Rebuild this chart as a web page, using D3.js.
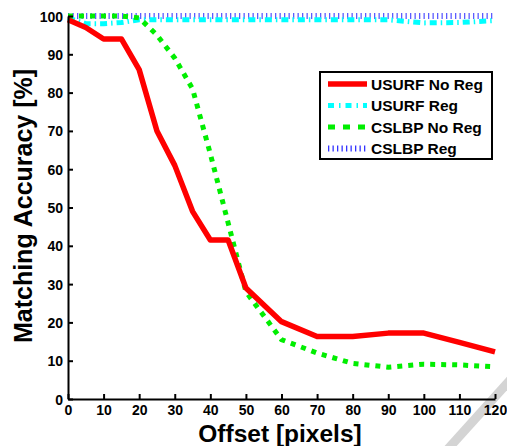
<!DOCTYPE html>
<html>
<head>
<meta charset="utf-8">
<script src="https://cdn.jsdelivr.net/npm/d3@7"></script>
<style>
  body { margin: 0; background: #fff; }
  text { font-family: "Liberation Sans", Arial, sans-serif; font-weight: bold; }
</style>
</head>
<body>
<div id="chart"></div>
<script>
// DATA
var offsets = [0, 5, 10, 15, 20, 25, 30, 35, 40, 45, 50, 60, 70, 80, 90, 100, 110, 120];
var usurfNoReg = [99, 97, 94, 94, 86, 70, 61, 49, 41.5, 41.5, 29, 20.2, 16.3, 16.3, 17.2, 17.2, 14.8, 12.3];
var usurfReg = [99.5, 98, 98, 98.3, 99, 99, 99, 99, 99, 99, 99, 99, 99, 99, 99, 98.2, 98.3, 98.8];
var cslbpNoReg = [100, 100, 100, 100, 99.5, 95, 89, 81, 64, 46, 28, 15.5, 12, 9.3, 8.3, 9.1, 8.9, 8.4];
var cslbpReg = [100, 100, 100, 100, 100, 100, 100, 100, 100, 100, 100, 100, 100, 100, 100, 100, 100, 100];
var xTicks = [0, 10, 20, 30, 40, 50, 60, 70, 80, 90, 100, 110, 120];
var yTicks = [0, 10, 20, 30, 40, 50, 60, 70, 80, 90, 100];

var series = [
  { name: "USURF No Reg", values: usurfNoReg, color: "#ff0000", width: 5.5, dash: null, legendDash: null },
  { name: "USURF Reg", values: usurfReg, color: "#00ffff", width: 5, dash: "7,4,1.5,4", legendDash: "6,5,1.5,5" },
  { name: "CSLBP No Reg", values: cslbpNoReg, color: "#00ee00", width: 5, dash: "5,6", legendDash: "7,8" },
  { name: "CSLBP Reg", values: cslbpReg, color: "#3333ff", width: 6, dash: "1.3,3.2", legendDash: "1.3,3.2" }
];

var svg = d3.select("#chart").append("svg")
  .attr("width", 507)
  .attr("height", 446);

var x = d3.scaleLinear().domain([0, 120]).range([68, 495]);
var y = d3.scaleLinear().domain([0, 100]).range([399, 16]);

// watermark stripe
svg.append("line")
  .attr("x1", 447).attr("y1", 450)
  .attr("x2", 512).attr("y2", 378)
  .attr("stroke", "#d4d4d4")
  .attr("stroke-width", 9);

// lines
var line = d3.line()
  .x(function (d, i) { return x(offsets[i]); })
  .y(function (d) { return y(d); });

// draw order: blue, cyan first then green and red on top
[3, 1, 2, 0].forEach(function (k) {
  var s = series[k];
  svg.append("path")
    .attr("d", line(s.values))
    .attr("fill", "none")
    .attr("stroke", s.color)
    .attr("stroke-width", s.width)
    .attr("stroke-dasharray", s.dash)
    .attr("stroke-linejoin", "round")
    .attr("opacity", k == 3 ? 0.8 : 1);
});

// axes
var xAxis = d3.axisBottom(x).tickValues(xTicks).tickSizeInner(-5).tickSizeOuter(0).tickPadding(6);
var yAxis = d3.axisLeft(y).tickValues(yTicks).tickSizeInner(-5).tickSizeOuter(0).tickPadding(5);

var gx = svg.append("g").attr("transform", "translate(0,399)").call(xAxis);
var gy = svg.append("g").attr("transform", "translate(68,0)").call(yAxis);

[gx, gy].forEach(function (g) {
  g.select(".domain").attr("stroke", "#000").attr("stroke-width", 2);
  g.selectAll(".tick line").attr("stroke", "#000").attr("stroke-width", 2);
  g.selectAll(".tick text")
    .attr("fill", "#000")
    .style("font-family", "'Liberation Sans', Arial, sans-serif")
    .style("font-weight", "bold")
    .style("font-size", "14px");
});
gy.selectAll(".tick text").attr("dy", "0.36em");

// axis labels
svg.append("text")
  .attr("x", 280)
  .attr("y", 442)
  .attr("text-anchor", "middle")
  .style("font-size", "24.5px")
  .text("Offset [pixels]");

svg.append("text")
  .attr("transform", "translate(32,206) rotate(-90)")
  .attr("text-anchor", "middle")
  .style("font-size", "25px")
  .text("Matching Accuracy [%]");

// legend
var legend = svg.append("g");
legend.append("rect")
  .attr("x", 320).attr("y", 72)
  .attr("width", 172).attr("height", 87)
  .attr("fill", "#fff")
  .attr("stroke", "#000")
  .attr("stroke-width", 2);

series.forEach(function (s, i) {
  var ly = 84 + i * 21.5;
  legend.append("line")
    .attr("x1", 328).attr("x2", 367)
    .attr("y1", ly).attr("y2", ly)
    .attr("stroke", s.color)
    .attr("stroke-width", s.width)
    .attr("stroke-dasharray", s.legendDash);
  legend.append("text")
    .attr("x", 371)
    .attr("y", ly + 5.5)
    .style("font-size", "15.5px")
    .text(s.name);
});
</script>
</body>
</html>
